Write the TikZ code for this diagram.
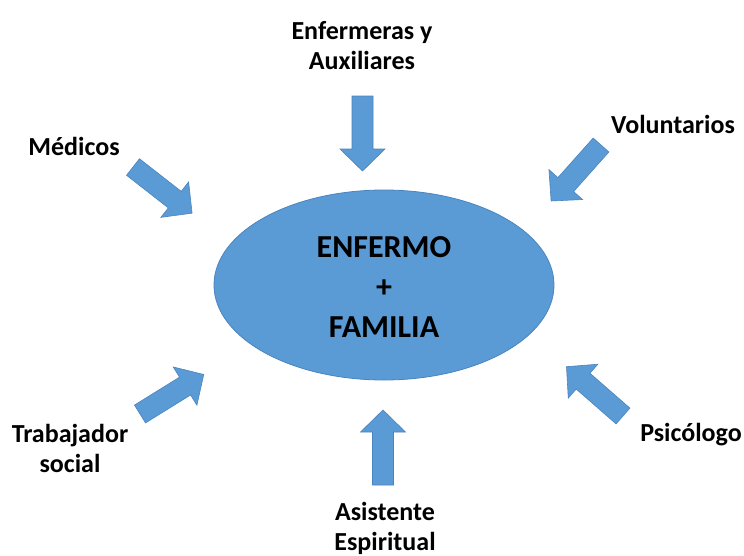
\documentclass[tikz,border=0pt]{standalone}
\usepackage{fontspec}
\setmainfont{Carlito}
\usetikzlibrary{shapes.geometric}
\definecolor{blfill}{HTML}{5B9BD5}
\definecolor{bldraw}{HTML}{4A84BE}
\tikzset{
  arrowfill/.style={fill=blfill, draw=bldraw, line width=0.6pt, line join=miter},
  blockarrow/.pic={\path[arrowfill] (0,-10.5) -- (53,-10.5) -- (53,-22.5) -- (75,0) -- (53,22.5) -- (53,10.5) -- (0,10.5) -- cycle;},
  lbl/.style={font=\fontsize{26}{30}\selectfont\bfseries, align=center, inner sep=0pt, anchor=base},
  coretext/.style={font=\fontsize{32}{40}\selectfont\bfseries, align=center}
}
\begin{document}
\begin{tikzpicture}[x=1pt,y=-1pt]
\useasboundingbox (0,0) rectangle (744,555);
\node[ellipse, fill=blfill, draw=bldraw, line width=0.8pt, minimum width=340pt, minimum height=190pt] (core) at (384,285) {};
\node[coretext] (coretxt) at (384,287) {ENFERMO\\+\\FAMILIA};
\pic at (362.5,96) [rotate=-90] {blockarrow};
\pic at (383,485) [rotate=90] {blockarrow};
\pic at (133,167) [rotate=-38] {blockarrow};
\pic at (601,145) [rotate=-131.7] {blockarrow};
\pic at (140,414) [rotate=31.8] {blockarrow};
\pic at (623,416) [rotate=138.9] {blockarrow};
\node[lbl] (enf) at (362,69) {Enfermeras y\\Auxiliares};
\node[lbl] (med) at (74,155) {Médicos};
\node[lbl] (vol) at (673,133) {Voluntarios};
\node[lbl] (tra) at (70,472) {Trabajador\\social};
\node[lbl] (psi) at (691,441) {Psicólogo};
\node[lbl] (asi) at (385,550) {Asistente\\Espiritual};
\end{tikzpicture}
\end{document}
